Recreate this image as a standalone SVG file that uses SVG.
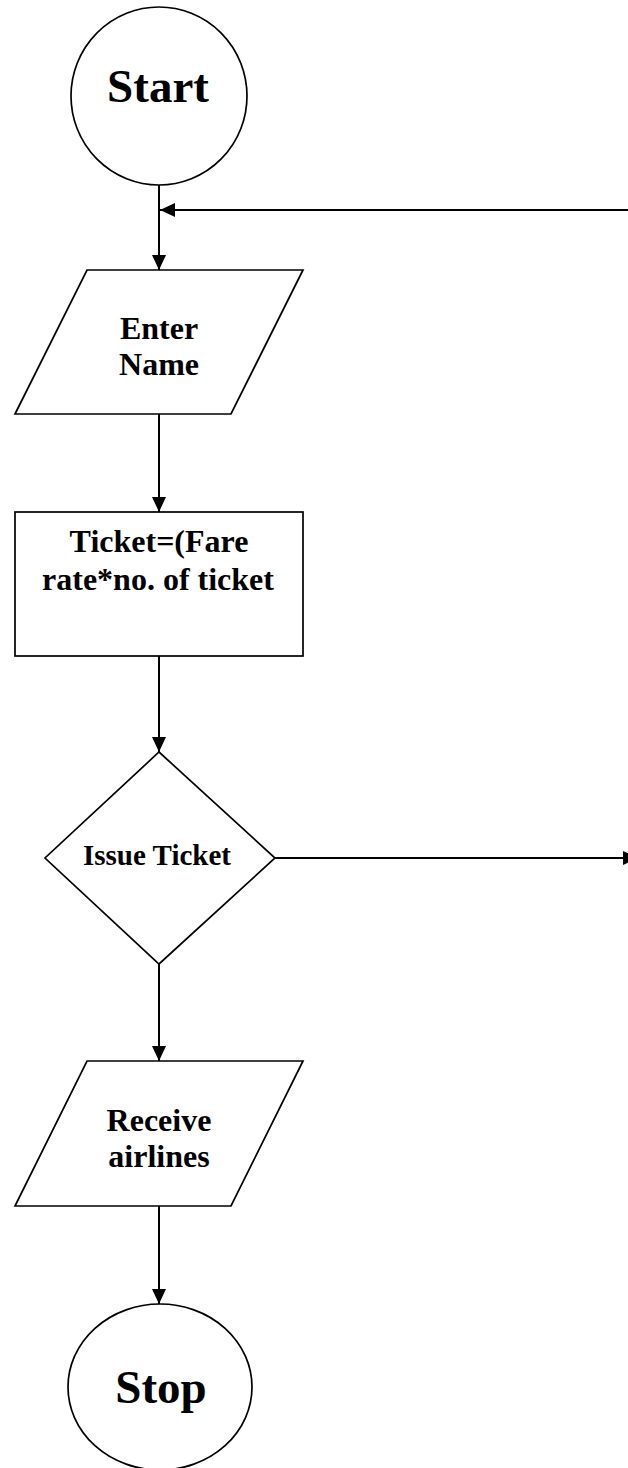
<svg xmlns="http://www.w3.org/2000/svg" width="628" height="1468" viewBox="0 0 628 1468">
<style>
.shape{fill:#fff;stroke:#000;stroke-width:1.7}
.conn{fill:none;stroke:#000;stroke-width:2}
.big{font-family:"Liberation Serif","Times New Roman",serif;font-weight:bold;font-size:47px;text-anchor:middle;fill:#000}
.lbl{font-family:"Liberation Serif","Times New Roman",serif;font-weight:bold;font-size:32px;text-anchor:middle;fill:#000}
</style>
<defs>
<marker id="ah" markerUnits="userSpaceOnUse" markerWidth="16" markerHeight="16" viewBox="0 0 16 16" refX="15" refY="8" orient="auto">
<path d="M0,1 L15,8 L0,15 Z" fill="#000"/>
</marker>
</defs>
<rect width="628" height="1468" fill="#fff"/>
<g id="connectors">
<line class="conn" x1="159" y1="185" x2="159" y2="270" marker-end="url(#ah)"/>
<line class="conn" x1="640" y1="210" x2="160" y2="210" marker-end="url(#ah)"/>
<line class="conn" x1="159" y1="414" x2="159" y2="512" marker-end="url(#ah)"/>
<line class="conn" x1="159" y1="656" x2="159" y2="752" marker-end="url(#ah)"/>
<line class="conn" x1="275" y1="858" x2="638" y2="858" marker-end="url(#ah)"/>
<line class="conn" x1="159" y1="964" x2="159" y2="1061" marker-end="url(#ah)"/>
<line class="conn" x1="159" y1="1206" x2="159" y2="1304" marker-end="url(#ah)"/>
</g>
<g id="start">
<ellipse class="shape" cx="159" cy="96" rx="88" ry="89"/>
<text class="big" x="158" y="102">Start</text>
</g>
<g id="enter-name">
<polygon class="shape" points="87,270 303,270 231,414 15,414"/>
<text class="lbl" x="159" y="339">Enter</text>
<text class="lbl" x="159" y="375">Name</text>
</g>
<g id="ticket">
<rect class="shape" x="15" y="512" width="288" height="144"/>
<text class="lbl" x="159" y="552">Ticket=(Fare</text>
<text class="lbl" x="158" y="590">rate*no. of ticket</text>
</g>
<g id="issue-ticket">
<polygon class="shape" points="159,752 275,858 159,964 45,858"/>
<text class="lbl" x="157" y="865" style="font-size:29px">Issue Ticket</text>
</g>
<g id="receive-airlines">
<polygon class="shape" points="87,1061 303,1061 231,1206 15,1206"/>
<text class="lbl" x="159" y="1131">Receive</text>
<text class="lbl" x="159" y="1167">airlines</text>
</g>
<g id="stop">
<ellipse class="shape" cx="160" cy="1387" rx="92" ry="83"/>
<text class="big" x="161" y="1403">Stop</text>
</g>
</svg>
